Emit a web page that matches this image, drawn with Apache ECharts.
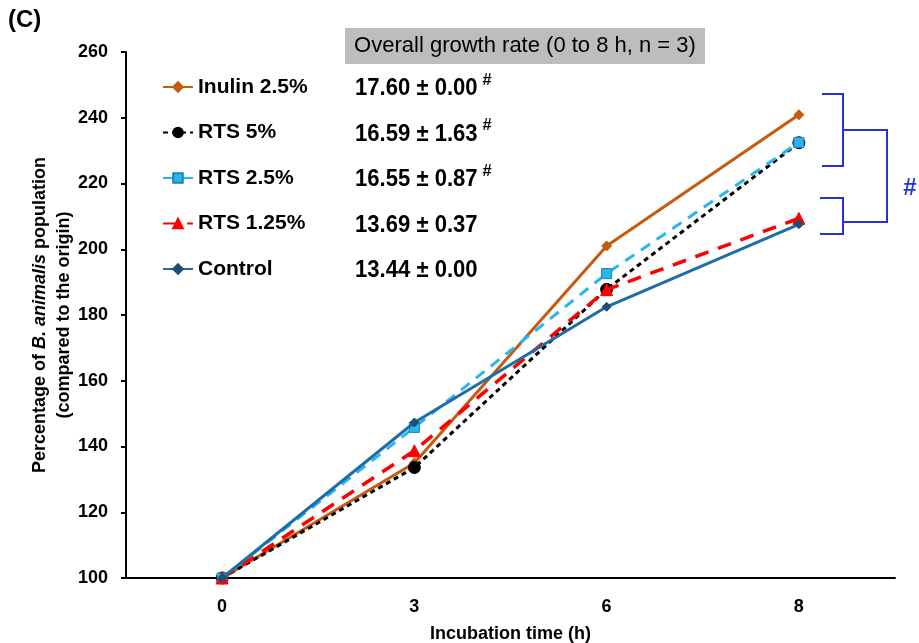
<!DOCTYPE html>
<html>
<head>
<meta charset="utf-8">
<script src="https://cdn.jsdelivr.net/npm/echarts@6/dist/echarts.min.js"></script>
<style>html,body{margin:0;padding:0;background:#fff}#c{width:919px;height:643px}</style>
</head>
<body>
<div id="c"></div>
<script>
// ---- data ----
var categories = ['0', '3', '6', '8'];
var seriesNames = ['Inulin 2.5%', 'RTS 5%', 'RTS 2.5%', 'RTS 1.25%', 'Control'];
var inulin25 = [100, 135.0, 201.0, 240.9];
var rts5 = [100, 133.6, 187.8, 232.4];
var rts25 = [100, 145.8, 192.6, 232.5];
var rts125 = [100, 138.7, 187.7, 209.4];
var control = [100, 147.3, 182.5, 207.6];
var rateMean = ['17.60', '16.59', '16.55', '13.69', '13.44'];
var rateSD = ['0.00', '1.63', '0.87', '0.37', '0.00'];
var rateSig = [true, true, true, false, false];
var yTicks = [100, 120, 140, 160, 180, 200, 220, 240, 260];

var FONT = '"Liberation Sans", Arial, sans-serif';
var chart = echarts.init(document.getElementById('c'));

var styles = [
  {color: '#C55A11', type: 'solid', width: 3, symbol: 'diamond', size: 10, mcolor: '#C55A11', bcolor: '#C55A11'},
  {color: '#000000', type: [5, 4], width: 3, symbol: 'circle', size: 12, mcolor: '#000000', bcolor: '#000000'},
  {color: '#29B5EE', type: [11, 8], width: 3, symbol: 'rect', size: 10, mcolor: '#29B5EE', bcolor: '#1A86B8'},
  {color: '#FF0000', type: [14, 10], width: 3.5, symbol: 'triangle', size: 12, mcolor: '#FF0000', bcolor: '#FF0000'},
  {color: '#1F6DA6', type: 'solid', width: 3, symbol: 'diamond', size: 9, mcolor: '#1B4F7A', bcolor: '#1B4F7A'}
];
var dataArr = [inulin25, rts5, rts25, rts125, control];

var series = seriesNames.map(function (n, i) {
  var s = styles[i];
  return {
    name: n, type: 'line', data: dataArr[i],
    symbol: s.symbol, symbolSize: s.size, showSymbol: true,
    lineStyle: {color: s.color, width: s.width, type: s.type},
    itemStyle: {color: s.mcolor, borderColor: s.bcolor, borderWidth: 1},
    z: 2 + i, animation: false
  };
});

var rowY0 = 87, rowGap = 45.5, valY0 = 89;
var graphics = [
  {type: 'text', left: 8, top: 8, style: {text: '(C)', font: 'bold 24px ' + FONT, fill: '#000'}},
  {type: 'rect', shape: {x: 345, y: 28, width: 360, height: 36}, style: {fill: '#BDBDBD'}},
  {type: 'text', x: 525, y: 46,
   style: {text: 'Overall growth rate (0 to 8 h, n = 3)', font: '22px ' + FONT, fill: '#000', align: 'center', verticalAlign: 'middle'}}
];
rateMean.forEach(function (m, i) {
  var y = valY0 + i * rowGap;
  graphics.push({
    type: 'text', x: 355, y: y, scaleX: 0.96, originX: 0, originY: 0,
    style: {
      text: '{v|' + m + ' ± ' + rateSD[i] + '}' + (rateSig[i] ? '{s|#}' : ''),
      verticalAlign: 'middle', align: 'left',
      rich: {
        v: {font: 'bold 23px ' + FONT, fill: '#000'},
        s: {font: 'bold 17px ' + FONT, fill: '#000', padding: [0, 0, 18, 5]}
      }
    }
  });
});
var blue = '#2233DD';
graphics.push(
  {type: 'polyline', shape: {points: [[822, 94], [843, 94], [843, 166], [822, 166]]}, style: {stroke: blue, lineWidth: 2, fill: null}},
  {type: 'polyline', shape: {points: [[820, 198], [843, 198], [843, 234], [820, 234]]}, style: {stroke: blue, lineWidth: 2, fill: null}},
  {type: 'polyline', shape: {points: [[843, 130], [887, 130], [887, 222], [843, 222]]}, style: {stroke: blue, lineWidth: 2, fill: null}},
  {type: 'text', x: 910, y: 188, style: {text: '#', font: 'bold 24px ' + FONT, fill: blue, align: 'center', verticalAlign: 'middle'}}
);

chart.setOption({
  animation: false,
  backgroundColor: '#fff',
  grid: {left: 126, right: 24, top: 52, bottom: 65, containLabel: false, outerBoundsMode: 'none'},
  legend: {
    orient: 'vertical', left: 162, top: rowY0 - 11, padding: 0, itemWidth: 30, itemHeight: 12, itemGap: rowGap - 22,
    data: seriesNames,
    textStyle: {fontFamily: FONT, fontWeight: 'bold', fontSize: 21, color: '#000', lineHeight: 22}
  },
  xAxis: {
    type: 'category', data: categories, boundaryGap: true,
    name: 'Incubation time (h)', nameLocation: 'middle', nameGap: 47,
    nameTextStyle: {fontFamily: FONT, fontWeight: 'bold', fontSize: 18, color: '#000'},
    axisLine: {lineStyle: {color: '#000', width: 2}},
    axisTick: {alignWithLabel: true, length: 5, lineStyle: {color: '#000', width: 2}},
    axisLabel: {fontFamily: FONT, fontWeight: 'bold', fontSize: 18, color: '#000', margin: 20},
    splitLine: {show: false}
  },
  yAxis: {
    type: 'value', min: yTicks[0], max: yTicks[yTicks.length - 1], interval: 20,
    name: '{b|Percentage of }{i|B. animalis}{b| population}\n{b|(compared to the origin)}',
    nameLocation: 'middle', nameGap: 50, nameRotate: 90, nameMoveOverlap: false,
    nameTextStyle: {
      rich: {
        b: {fontFamily: FONT, fontWeight: 'bold', fontSize: 18, color: '#000', lineHeight: 24},
        i: {fontFamily: FONT, fontWeight: 'bold', fontStyle: 'italic', fontSize: 18, color: '#000', lineHeight: 24}
      }
    },
    axisLine: {show: true, lineStyle: {color: '#000', width: 2}},
    axisTick: {show: true, length: 5, lineStyle: {color: '#000', width: 2}},
    axisLabel: {fontFamily: FONT, fontWeight: 'bold', fontSize: 18, color: '#000', margin: 18},
    splitLine: {show: false}
  },
  series: series,
  graphic: graphics
});
</script>
</body>
</html>
